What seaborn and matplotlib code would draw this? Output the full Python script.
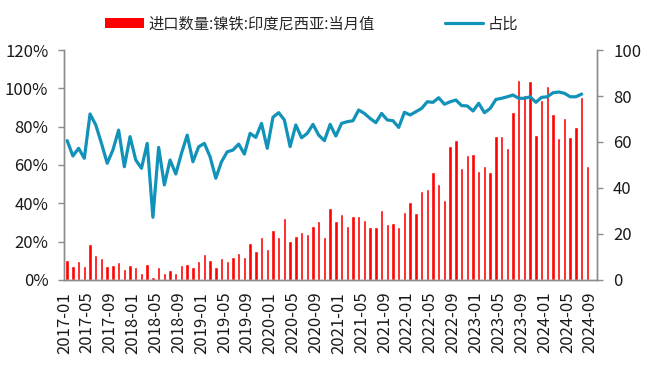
import numpy as np
import pandas as pd
import matplotlib
matplotlib.use("Agg")
import matplotlib.pyplot as plt
import seaborn as sns
from matplotlib.patches import Patch
from matplotlib.lines import Line2D
from matplotlib.ticker import FuncFormatter

# =========================
# data
# =========================
months = pd.date_range("2017-01-01", "2024-08-01", freq="MS").strftime("%Y-%m").tolist()

# 进口数量:镍铁:印度尼西亚:当月值 (right axis)
import_qty = [
    8.7, 6.1, 8.3, 6.1, 15.7, 10.9, 9.6, 6.1, 6.5, 7.8, 4.8, 6.5,
    5.7, 3.0, 7.0, 1.3, 5.7, 3.0, 4.3, 3.0, 6.5, 7.0, 5.7, 8.3,
    11.3, 8.7, 5.7, 9.6, 8.3, 10.0, 11.7, 10.0, 16.1, 12.6, 18.7, 13.5,
    21.7, 18.7, 27.0, 17.0, 19.1, 20.9, 20.0, 23.5, 25.7, 18.7, 31.3, 25.7,
    28.7, 23.5, 27.8, 27.8, 26.1, 23.0, 23.0, 30.4, 24.3, 24.8, 23.0, 29.6,
    33.9, 29.1, 38.7, 39.6, 47.0, 41.7, 34.8, 58.3, 60.9, 48.7, 54.3, 54.8,
    47.4, 49.6, 47.0, 62.6, 62.6, 57.4, 73.0, 87.0, 80.4, 86.5, 63.0, 78.3,
    84.3, 72.2, 61.7, 70.4, 62.2, 66.5, 79.6, 49.6,
]

# 占比 in % (left axis), ends one month earlier
share = [
    72.7, 64.7, 68.7, 63.5, 86.6, 80.9, 71.3, 60.9, 67.8, 78.2, 59.1, 74.8,
    62.6, 58.3, 71.3, 32.7, 69.2, 49.6, 62.6, 55.3, 66.1, 75.6, 61.7, 69.5,
    71.3, 64.3, 53.1, 61.7, 66.9, 67.8, 70.9, 65.7, 76.5, 74.4, 81.7, 68.7,
    84.9, 87.3, 83.5, 69.6, 80.9, 74.2, 76.5, 81.2, 75.6, 72.7, 81.2, 75.1,
    81.7, 82.6, 83.1, 88.7, 86.9, 84.3, 82.1, 86.9, 83.5, 83.1, 79.6, 87.5,
    86.1, 87.8, 89.5, 93.0, 92.7, 95.1, 91.7, 93.0, 93.9, 91.0, 90.8, 88.2,
    92.2, 87.3, 89.5, 94.2, 94.8, 95.6, 96.5, 94.8, 94.8, 95.6, 92.7, 95.3,
    95.6, 97.7, 98.1, 97.4, 95.6, 95.6, 97.0,
]

tick_labels = [
    "2017-01", "2017-05", "2017-09", "2018-01", "2018-05", "2018-09",
    "2019-01", "2019-05", "2019-09", "2020-01", "2020-05", "2020-09",
    "2021-01", "2021-05", "2021-09", "2022-01", "2022-05", "2022-09",
    "2023-01", "2023-05", "2023-09", "2024-01", "2024-05", "2024-09",
]

bar_name = "进口数量:镍铁:印度尼西亚:当月值"
line_name = "占比"

df = pd.DataFrame({"month": months, "pos": np.arange(len(months)), "qty": import_qty})
df["share"] = pd.Series(share)

# =========================
# style
# =========================
sns.set_style("white")
plt.rcParams["font.family"] = ["Noto Sans CJK SC", "DejaVu Sans"]

RED = "#FF0000"
BLUE = "#1192B8"
GREY = "#8C8C8C"

fig = plt.figure(figsize=(6.59, 3.78), dpi=100)
ax = fig.add_axes([0.0976, 0.2593, 0.8084, 0.6084])

# bars on the base axes (right-hand scale), line on the twin (left-hand scale) so it sits on top
sns.barplot(data=df, x="pos", y="qty", native_scale=True, width=0.6,
            color=RED, errorbar=None, saturation=1, ax=ax)
ax2 = ax.twinx()
sns.lineplot(data=df, x="pos", y="share", color=BLUE, lw=2.3, ax=ax2)

# twinx puts the base ticks on the left, so swap sides afterwards
ax.yaxis.tick_right()
ax.yaxis.set_label_position("right")
ax2.yaxis.tick_left()
ax2.yaxis.set_label_position("left")

ax.set_ylim(0, 100)
ax.set_yticks(np.arange(0, 101, 20))
ax2.set_ylim(0, 120)
ax2.set_yticks(np.arange(0, 121, 20))
ax2.yaxis.set_major_formatter(FuncFormatter(lambda v, p: f"{v:.0f}%"))

ax.set_xlim(-0.5, 92.7)
ax.set_xticks(np.arange(0, 93, 4) - 0.5)
ax.set_xticklabels(tick_labels, rotation=90)

for a in (ax, ax2):
    a.set_xlabel("")
    a.set_ylabel("")
    a.spines["top"].set_visible(False)
    for s in ("left", "right", "bottom"):
        a.spines[s].set_color(GREY)
        a.spines[s].set_linewidth(1)
    a.tick_params(axis="both", length=4, width=1, color=GREY,
                  labelsize=12, labelcolor="#1a1a1a", direction="out")
    a.tick_params(axis="y", pad=7.5)
    a.tick_params(axis="x", pad=4.5)
    a.grid(False)

# =========================
# legend
# =========================
handles = [Patch(facecolor=RED, edgecolor="none"),
           Line2D([0], [0], color=BLUE, lw=2.3)]
fig.legend(handles, [bar_name, line_name], loc="center", bbox_to_anchor=(0.473, 0.937),
           ncol=2, frameon=False, fontsize=11, handlelength=2.5,
           handletextpad=0.3, columnspacing=4.6)

fig.savefig("out.png", dpi=100)
